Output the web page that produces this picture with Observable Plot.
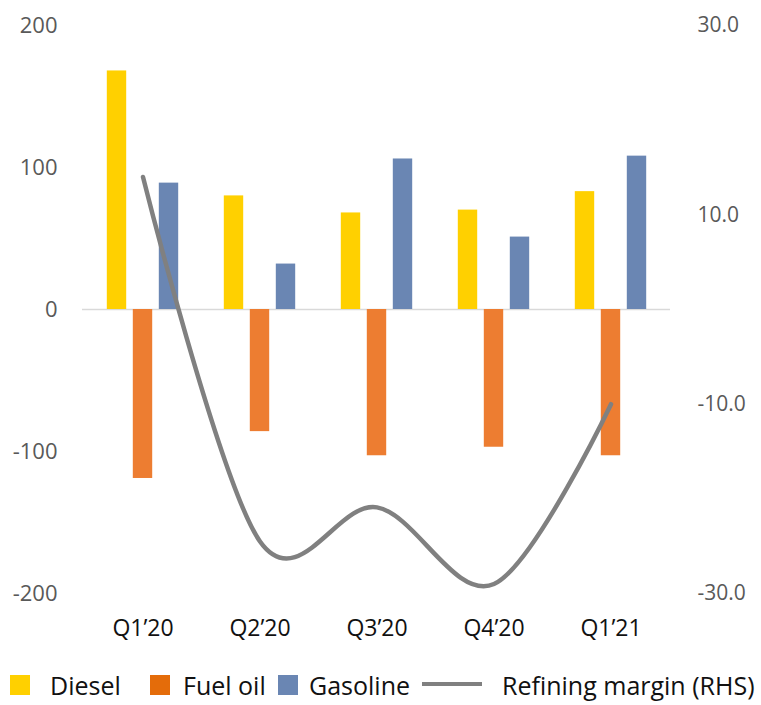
<!DOCTYPE html>
<html>
<head>
<meta charset="utf-8">
<script src="https://cdn.jsdelivr.net/npm/d3@7"></script>
<script src="https://cdn.jsdelivr.net/npm/@observablehq/plot@0.6"></script>
<style>
  body { margin: 0; background: #fff; font-family: "Open Sans", sans-serif; }
  #chart svg { display: block; }
  #legend { position: relative; width: 761px; height: 50px; }
  #legend .sw { position: absolute; top: 20px; width: 20px; height: 20px; }
  #legend .ln { position: absolute; top: 27px; width: 60px; height: 4px; background: #808080; }
  #legend .tx { position: absolute; top: 18px; font-size: 25px; line-height: 25px; color: #111; white-space: nowrap; }
</style>
</head>
<body>
<div id="chart"></div>
<div id="legend"></div>
<script>
// Quarterly crack spreads by product (left axis) and refining margin (right axis)
const quarters = ["Q1’20", "Q2’20", "Q3’20", "Q4’20", "Q1’21"];
const diesel = [168, 80, 68, 70, 83];
const fuelOil = [-119, -86, -103, -97, -103];
const gasoline = [89, 32, 106, 51, 108];
const refiningMargin = [14.0, -24.5, -20.9, -29.0, -10.0];

const leftTicks = [-200, -100, 0, 100, 200];
const rightTicks = [-30, -10, 10, 30];

const seriesNames = ["Diesel", "Fuel oil", "Gasoline"];
const seriesValues = [diesel, fuelOil, gasoline];
const barColors = ["#FFD000", "#ED7D31", "#6A86B3"];
const legendColors = ["#FFD000", "#E46C0A", "#6A86B3"];
const lineColor = "#808080";

// Right-hand scale (-30..30) mapped onto the left-hand scale (-200..200)
const rhsRatio = 200 / 30;

const W = 761, H = 655;
const marginLeft = 82, marginRight = 91;
const bandWidth = (W - marginLeft - marginRight) / quarters.length;
const barWidth = 20, barStep = 26;
const inset = (bandWidth - barWidth) / 2;

const barMarks = seriesNames.map((name, s) =>
  Plot.barY(
    quarters.map((q, i) => ({ quarter: q, value: seriesValues[s][i] })),
    {
      x: "quarter",
      y1: 0,
      y2: "value",
      fill: barColors[s],
      dx: (s - 1) * barStep,
      insetLeft: inset,
      insetRight: inset
    }
  )
);

const marginData = quarters.map((q, i) => ({ quarter: q, margin: refiningMargin[i] }));

const chart = Plot.plot({
  width: W,
  height: H,
  marginTop: 25,
  marginBottom: H - 593,
  marginLeft,
  marginRight,
  style: { fontFamily: "Open Sans, sans-serif", color: "#595959", background: "#fff" },
  x: { domain: quarters, padding: 0, axis: null },
  y: { domain: [-200, 200], axis: null },
  marks: [
    Plot.ruleY([0], { stroke: "#d9d9d9", strokeWidth: 1.5 }),
    ...barMarks,
    Plot.line(marginData, {
      x: "quarter",
      y: d => d.margin * rhsRatio,
      stroke: lineColor,
      strokeWidth: 4.5,
      strokeLinecap: "round",
      curve: "cardinal"
    }),
    Plot.axisX({ tickSize: 0, tickPadding: 26, fontSize: 23, fill: "#111", label: null }),
    Plot.axisY({
      ticks: leftTicks,
      tickSize: 0,
      tickPadding: 25,
      tickFormat: d => String(d),
      fontSize: 22,
      fill: "#595959",
      label: null
    }),
    Plot.axisY({
      anchor: "right",
      ticks: rightTicks.map(v => v * rhsRatio),
      tickSize: 0,
      tickPadding: 27,
      tickFormat: d => (d / rhsRatio).toFixed(1),
      fontSize: 21,
      fill: "#595959",
      label: null
    })
  ]
});
document.getElementById("chart").appendChild(chart);

// Legend row below the chart
const legend = document.getElementById("legend");
const legendItems = [
  { kind: "sw", color: legendColors[0], x: 10, label: seriesNames[0], tx: 50 },
  { kind: "sw", color: legendColors[1], x: 150, label: seriesNames[1], tx: 183 },
  { kind: "sw", color: legendColors[2], x: 278, label: seriesNames[2], tx: 309 },
  { kind: "ln", color: lineColor, x: 422, label: "Refining margin (RHS)", tx: 502 }
];
for (const item of legendItems) {
  const key = document.createElement("div");
  key.className = item.kind;
  key.style.left = item.x + "px";
  key.style.background = item.color;
  legend.appendChild(key);
  const t = document.createElement("div");
  t.className = "tx";
  t.style.left = item.tx + "px";
  t.textContent = item.label;
  legend.appendChild(t);
}
</script>
</body>
</html>
